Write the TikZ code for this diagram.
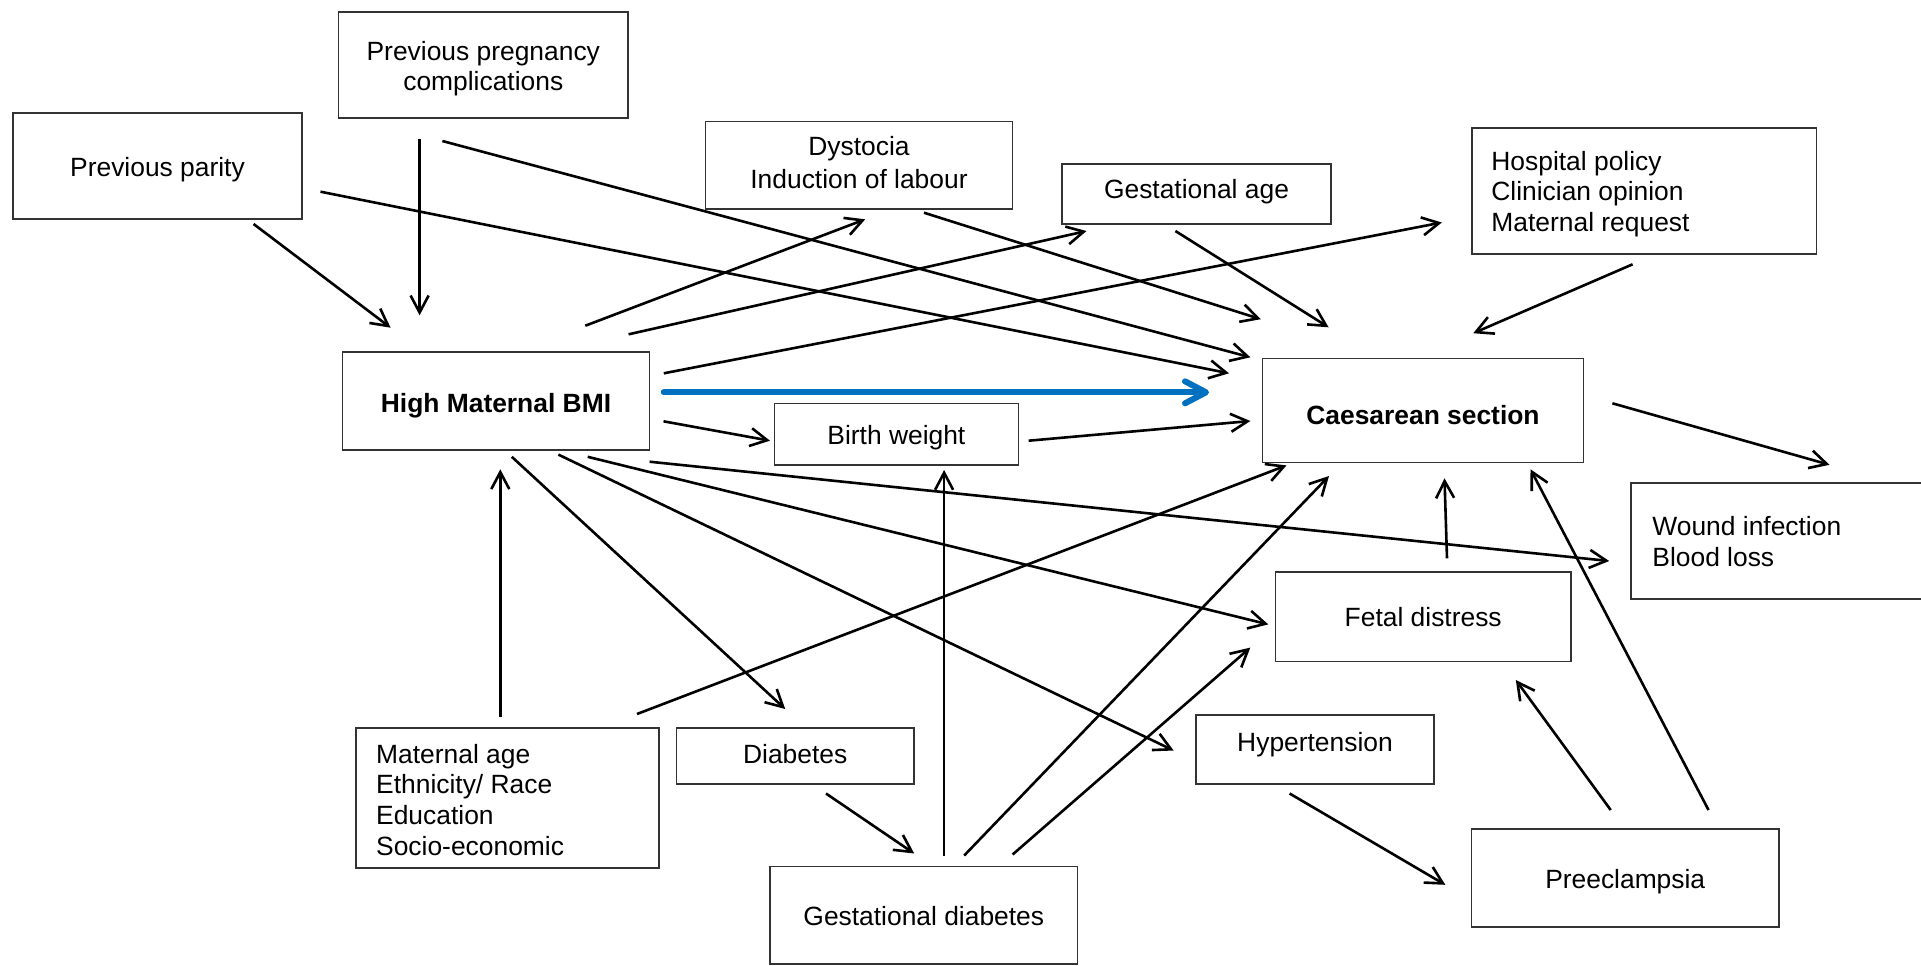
\documentclass[tikz,border=0pt]{standalone}
\usepackage{fontspec}
\setmainfont{Liberation Sans}
\usetikzlibrary{arrows.meta}
\definecolor{pathblue}{HTML}{0070C0}
\newcommand{\cen}[1]{\begin{tabular}[t]{@{}c@{}}#1\end{tabular}}
\newcommand{\lft}[1]{\begin{tabular}[t]{@{}l@{}}#1\end{tabular}}
\tikzset{
  box/.style={draw=black!80, line width=0.8pt, inner sep=0pt},
  txt/.style={inner sep=0pt, anchor=base, font=\fontsize{13.2pt}{15.3pt}\selectfont},
  ltxt/.style={txt, anchor=base west},
  arr/.style={line width=1.3pt, -{Straight Barb[length=8.5pt,width=9pt]}},
  mainarr/.style={line width=3pt, draw=pathblue, line cap=round,
    -{Straight Barb[length=10.5pt,width=11pt,line cap=round,line join=round]}}
}
\begin{document}
\begin{tikzpicture}[x=0.5pt, y=-0.5pt]
\useasboundingbox (0,0) rectangle (1921,965);

% factor boxes
\node[box, minimum width=144.75pt, minimum height=53pt] (pp) at (483.3,65) {};
\node[box, minimum width=144.5pt, minimum height=53pt] (par) at (157.5,166) {};
\node[box, minimum width=153.5pt, minimum height=49pt] (bmi) at (496,401) {};
\node[box, minimum width=153.5pt, minimum height=43.85pt] (dys) at (859,165.2) {};
\node[box, minimum width=134.5pt, minimum height=30.15pt] (ga) at (1196.5,193.9) {};
\node[box, minimum width=172.45pt, minimum height=63pt] (hosp) at (1644.2,191) {};
\node[box, minimum width=160.45pt, minimum height=52pt] (cs) at (1423,410.3) {};
\node[box, minimum width=121.9pt, minimum height=30.85pt] (bw) at (896.4,434.2) {};
\node[box, draw=none, minimum width=144.5pt, minimum height=57.15pt] (wnd) at (1776.5,540.85) {};
\draw[draw=black!80, line width=0.8pt] (wnd.north east) -- (wnd.north west) -- (wnd.south west) -- (wnd.south east);
\node[box, minimum width=147.75pt, minimum height=44.8pt] (fd) at (1423.2,616.5) {};
\node[box, minimum width=118.75pt, minimum height=34.5pt] (hyp) at (1315,749.2) {};
\node[box, minimum width=153.65pt, minimum height=49.15pt] (pre) at (1625.2,877.9) {};
\node[box, minimum width=151.55pt, minimum height=70.15pt] (ma) at (507.3,797.9) {};
\node[box, minimum width=118.55pt, minimum height=28.15pt] (dia) at (795.2,755.9) {};
\node[box, minimum width=153.55pt, minimum height=48.85pt] (gd) at (923.8,915.2) {};

% box texts (placed on their baselines)
\node[txt] (ppT) at (483.3,60.3) {\cen{Previous pregnancy\\complications}};
\node[txt] (parT) at (157.5,176) {Previous parity};
\node[txt, font=\fontsize{13.2pt}{15.3pt}\selectfont\bfseries] (bmiT) at (496,412) {High Maternal BMI};
\node[txt] (dysT) at (859,155.5) {\cen{Dystocia\\[1pt]Induction of labour}};
\node[txt] (gaT) at (1196.5,198.5) {Gestational age};
\node[ltxt] (hospT) at (1491,170.3) {\lft{Hospital policy\\Clinician opinion\\Maternal request}};
\node[txt, font=\fontsize{13.2pt}{15.3pt}\selectfont\bfseries] (csT) at (1423,424.3) {Caesarean section};
\node[txt] (bwT) at (896.4,444.5) {Birth weight};
\node[ltxt] (wndT) at (1652,535.5) {\lft{Wound infection\\Blood loss}};
\node[txt] (fdT) at (1423.2,626.7) {Fetal distress};
\node[txt] (hypT) at (1315,751.5) {Hypertension};
\node[txt] (preT) at (1625.2,888.2) {Preeclampsia};
\node[ltxt] (maT) at (375.8,763.3) {\lft{Maternal age\\Ethnicity/ Race\\Education\\Socio-economic}};
\node[txt] (diaT) at (795.2,763.5) {Diabetes};
\node[txt] (gdT) at (923.8,925.2) {Gestational diabetes};

% connector end points
\coordinate (parA) at (253.6,224);    \coordinate (bmiA) at (390.6,327.7);
\coordinate (ppA) at (419.6,139.3);   \coordinate (bmiB) at (419.6,315.3);
\coordinate (ppB) at (442.4,141);     \coordinate (csA) at (1250.4,357.3);
\coordinate (parB) at (320.5,191.7);  \coordinate (csB) at (1229,373.3);
\coordinate (bmiC) at (585.3,325.7);  \coordinate (dysA) at (865.2,219.3);
\coordinate (bmiD) at (628.6,334.3);  \coordinate (gaA) at (1086.5,231);
\coordinate (bmiE) at (663.8,373.3);  \coordinate (hospA) at (1441.8,222.5);
\coordinate (bmiF) at (663.8,392.3);  \coordinate (csC) at (1209,392.3);
\coordinate (bmiG) at (663.5,421.3);  \coordinate (bwA) at (770,440.7);
\coordinate (bwB) at (1028.6,440.7);  \coordinate (csD) at (1250.4,421);
\coordinate (dysB) at (924,212.7);    \coordinate (csE) at (1260.8,319.2);
\coordinate (gaB) at (1175.4,231);    \coordinate (csF) at (1328.6,327.3);
\coordinate (hospB) at (1632.6,264.3);\coordinate (csG) at (1473.3,333.2);
\coordinate (csH) at (1612.4,403.3);  \coordinate (wndA) at (1829.5,464.8);
\coordinate (bmiH) at (649.6,461.7);  \coordinate (wndB) at (1609.2,561);
\coordinate (bmiI) at (587.7,456.8);  \coordinate (fdA) at (1268.3,624.4);
\coordinate (bmiJ) at (558.4,454.6);  \coordinate (hypA) at (1173.6,750.5);
\coordinate (bmiK) at (511.8,456.8);  \coordinate (diaA) at (785.2,709);
\coordinate (maA) at (500.3,716.7);   \coordinate (bmiL) at (500.3,469.3);
\coordinate (maB) at (637,714);       \coordinate (csI) at (1286.5,465.4);
\coordinate (diaB) at (826,793.5);    \coordinate (gdA) at (914.2,853.5);
\coordinate (gdB) at (944.1,855.7);   \coordinate (bwC) at (944.1,470);
\coordinate (gdC) at (964.2,855.5);   \coordinate (csJ) at (1329,476);
\coordinate (gdD) at (1012.6,854.5);  \coordinate (fdB) at (1250.3,647.6);
\coordinate (fdC) at (1447,558.3);    \coordinate (csK) at (1444.5,478.3);
\coordinate (hypB) at (1289.6,793.5); \coordinate (preA) at (1445.3,884.8);
\coordinate (preB) at (1610.7,810);   \coordinate (fdD) at (1515.8,680);
\coordinate (preC) at (1708.5,810);   \coordinate (csL) at (1530.5,469.3);

% causal connectors
\draw[arr] (parA) -- (bmiA);
\draw[arr] (ppA) -- (bmiB);
\draw[arr] (ppB) -- (csA);
\draw[arr] (parB) -- (csB);
\draw[arr] (bmiC) -- (dysA);
\draw[arr] (bmiD) -- (gaA);
\draw[arr] (bmiE) -- (hospA);
\draw[arr] (bmiG) -- (bwA);
\draw[arr] (bwB) -- (csD);
\draw[arr] (dysB) -- (csE);
\draw[arr] (gaB) -- (csF);
\draw[arr] (hospB) -- (csG);
\draw[arr] (csH) -- (wndA);
\draw[arr] (bmiH) -- (wndB);
\draw[arr] (bmiI) -- (fdA);
\draw[arr] (bmiJ) -- (hypA);
\draw[arr] (bmiK) -- (diaA);
\draw[arr] (maA) -- (bmiL);
\draw[arr] (maB) -- (csI);
\draw[arr] (diaB) -- (gdA);
\draw[arr] (gdB) -- (bwC);
\draw[arr] (gdC) -- (csJ);
\draw[arr] (gdD) -- (fdB);
\draw[arr] (fdC) -- (csK);
\draw[arr] (hypB) -- (preA);
\draw[arr] (preB) -- (fdD);
\draw[arr] (preC) -- (csL);

% exposure-outcome path
\draw[mainarr] (bmiF) -- (csC);
\end{tikzpicture}
\end{document}
